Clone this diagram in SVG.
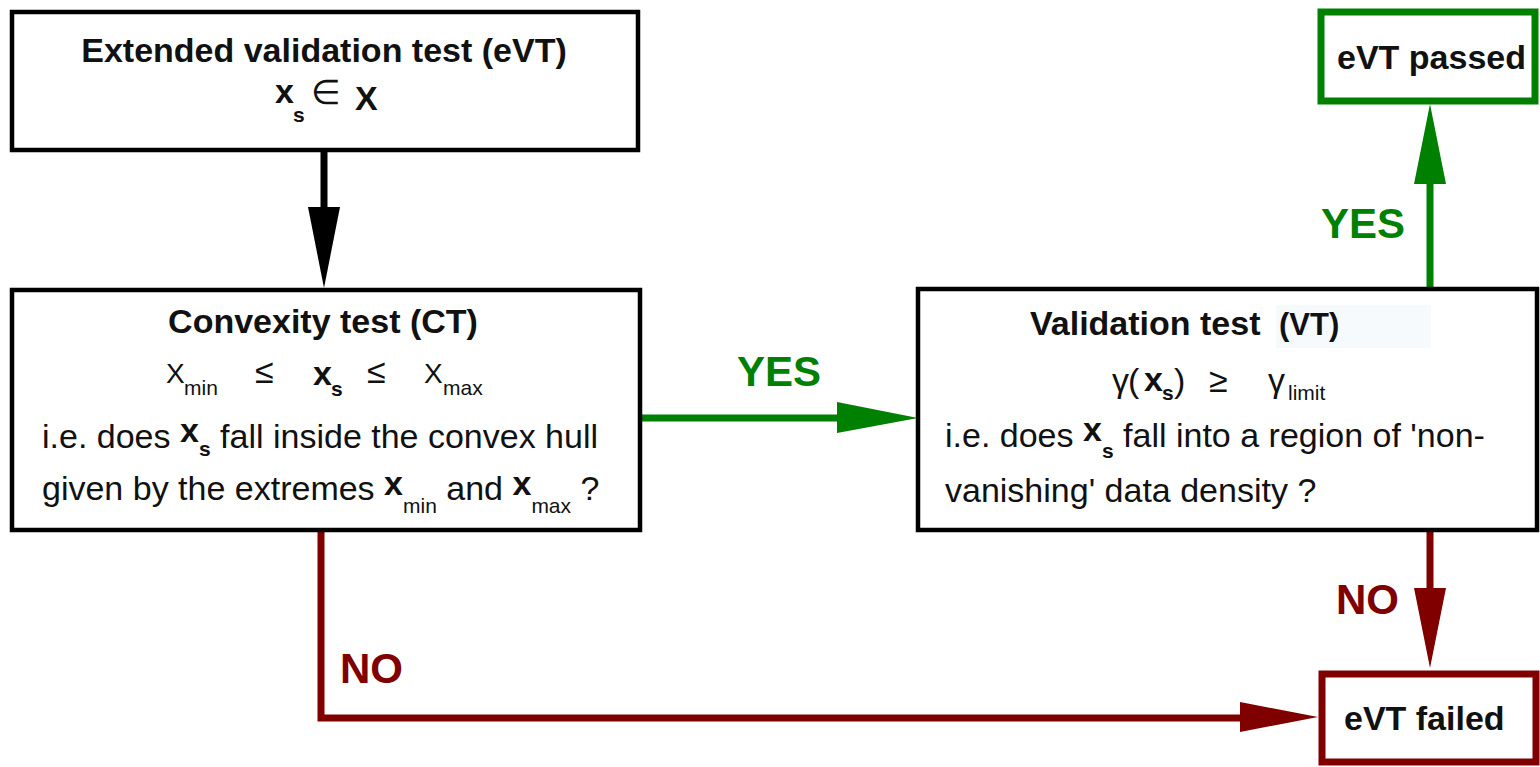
<svg xmlns="http://www.w3.org/2000/svg" width="1540" height="767" viewBox="0 0 1540 767">
<style>
text{font-family:"Liberation Sans",Arial,sans-serif;fill:#111}
.b{font-weight:bold;font-size:34px}
.r{font-size:34px}
.vt{font-weight:bold;font-size:31px}
.xr{font-size:28px}
.sub{font-size:21px}
.subb{font-size:21px;font-weight:bold}
.m{font-size:34px}
.lblg{font-weight:bold;font-size:42px;fill:#008000}
.lblr{font-weight:bold;font-size:42px;fill:#800000}
.box{fill:#fff;stroke:#000;stroke-width:4.5}
.boxg{fill:#fff;stroke:#008000;stroke-width:7}
.boxr{fill:#fff;stroke:#800000;stroke-width:7}
.lk{stroke:#000;stroke-width:7;fill:none}
.lg{stroke:#008000;stroke-width:7;fill:none}
.lr{stroke:#800000;stroke-width:7;fill:none}
</style>

<g id="connectors">
  <line class="lk" x1="324" y1="152" x2="324" y2="212"/>
  <polygon points="308,207 340,207 324,288" fill="#000"/>
  <line class="lg" x1="642" y1="418" x2="842" y2="418"/>
  <polygon points="837,402 837,433 918,418" fill="#008000"/>
  <line class="lg" x1="1430" y1="288" x2="1430" y2="180"/>
  <polygon points="1414,184 1446,184 1430,104" fill="#008000"/>
  <line class="lr" x1="1430" y1="532" x2="1430" y2="592"/>
  <polygon points="1414,588 1446,588 1430,668" fill="#800000"/>
  <path class="lr" d="M321,532 V718 H1245"/>
  <polygon points="1240,702 1240,732 1318,717" fill="#800000"/>
  <text class="lblg" x="737" y="386">YES</text>
  <text class="lblg" x="1321" y="238">YES</text>
  <text class="lblr" x="1336" y="614">NO</text>
  <text class="lblr" x="340" y="683">NO</text>
</g>

<g id="evt">
  <rect class="box" x="12" y="12" width="626" height="138"/>
  <text class="b" x="324" y="62" text-anchor="middle">Extended validation test (eVT)</text>
  <text class="b" x="275" y="103">x</text>
  <text class="subb" x="293" y="122">s</text>
  <text class="m" x="311" y="104">∈</text>
  <text class="b" x="355" y="110">X</text>
</g>

<g id="ct">
  <rect class="box" x="12" y="290" width="628" height="240"/>
  <text class="b" x="323" y="333" text-anchor="middle">Convexity test (CT)</text>
  <text class="xr" x="166" y="383">X</text>
  <text class="sub" x="184" y="395">min</text>
  <text class="m" x="255" y="383">≤</text>
  <text class="b" x="313" y="385">x</text>
  <text class="subb" x="331" y="396">s</text>
  <text class="m" x="367" y="383">≤</text>
  <text class="xr" x="424" y="383">X</text>
  <text class="sub" x="443" y="395">max</text>
  <text class="r" x="42" y="448">i.e. does <tspan class="b" dy="-6">x</tspan><tspan class="subb" dy="14">s</tspan><tspan dy="-8"> fall inside the convex hull</tspan></text>
  <text class="r" x="42" y="500">given by the extremes <tspan class="b" dy="-5">x</tspan><tspan class="sub" dy="18">min</tspan><tspan dy="-13"> and </tspan><tspan class="b" dy="-5">x</tspan><tspan class="sub" dy="18">max</tspan><tspan dy="-13"> ?</tspan></text>
</g>

<g id="vt">
  <rect class="box" x="918" y="289" width="619" height="241"/>
  <rect x="1276" y="305" width="155" height="43" fill="#f6fafd"/>
  <text class="b" x="1030" y="335">Validation test</text>
  <text class="vt" x="1279" y="335">(VT)</text>
  <text class="m" x="1112" y="392">γ</text>
  <text class="m" x="1128" y="392">(</text>
  <text class="b" x="1144" y="391">x</text>
  <text class="subb" x="1162" y="400">s</text>
  <text class="m" x="1174" y="392">)</text>
  <text class="m" x="1209" y="392">≥</text>
  <text class="m" x="1268" y="392">γ</text>
  <text class="sub" x="1288" y="400">limit</text>
  <text class="r" x="945" y="447">i.e. does <tspan class="b" dy="-6">x</tspan><tspan class="subb" dy="17">s</tspan><tspan dy="-11"> fall into a region of 'non-</tspan></text>
  <text class="r" x="945" y="502">vanishing' data density ?</text>
</g>

<g id="passed">
  <rect class="boxg" x="1321" y="12" width="214" height="89"/>
  <text class="b" x="1337" y="69">eVT passed</text>
</g>

<g id="failed">
  <rect class="boxr" x="1322" y="674" width="214" height="88"/>
  <text class="b" x="1344" y="730">eVT failed</text>
</g>
</svg>
